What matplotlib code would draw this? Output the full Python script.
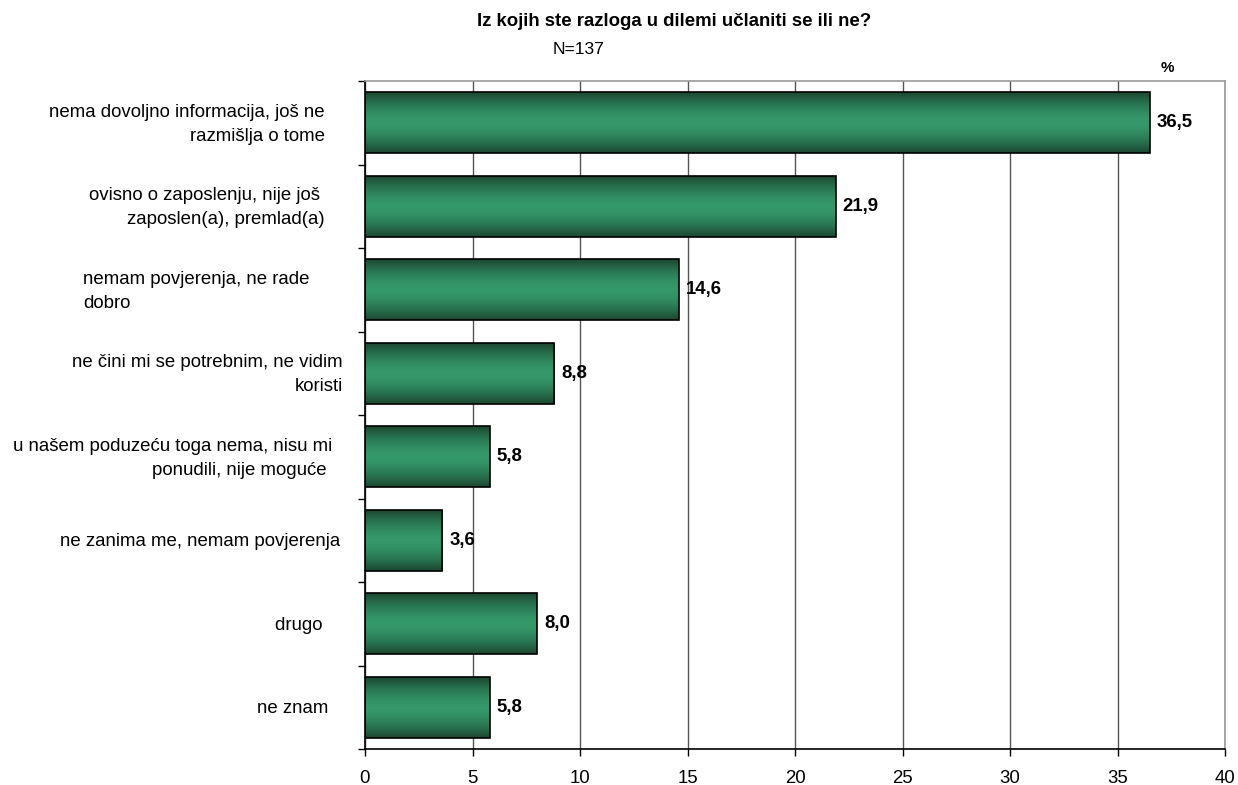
import numpy as np
import matplotlib
matplotlib.use("Agg")
import matplotlib.pyplot as plt
import matplotlib.transforms as mtransforms
from matplotlib.colors import to_rgb

plt.rcParams['font.family'] = ['Liberation Sans', 'DejaVu Sans']

# data
categories = [
    "nema dovoljno informacija, još ne\nrazmišlja o tome",
    "ovisno o zaposlenju, nije još \nzaposlen(a), premlad(a)",
    "nemam povjerenja, ne rade\ndobro",
    "ne čini mi se potrebnim, ne vidim\nkoristi",
    "u našem poduzeću toga nema, nisu mi\nponudili, nije moguće ",
    "ne zanima me, nemam povjerenja",
    "drugo ",
    "ne znam",
]
values = [36.5, 21.9, 14.6, 8.8, 5.8, 3.6, 8.0, 5.8]
xticks = [0, 5, 10, 15, 20, 25, 30, 35, 40]

# label anchors (pixels from left) and alignment, as in the original
label_x = [325, 325, 83, 343, 332, 340, 328, 328]
label_ha = ['right', 'right', 'left', 'right', 'right', 'right', 'right', 'right']

W, H = 1238, 785
fig = plt.figure(figsize=(W / 100, H / 100), dpi=100)
ax = fig.add_axes([365 / W, 1 - 749 / H, (1225 - 365) / W, (749 - 81) / H])

n = len(values)
ypos = np.arange(n)
bar_h = 0.73

ax.set_xlim(0, 40)
ax.set_ylim(n - 0.5, -0.5)

# gradient image for bars
edge_c = np.array(to_rgb("#1c4832"))
mid_c = np.array(to_rgb("#35996b"))
t = np.linspace(-1, 1, 64)
w = np.abs(t) ** 1.6
grad = mid_c[None, :] * (1 - w[:, None]) + edge_c[None, :] * w[:, None]
grad = grad[:, None, :]

bars = ax.barh(ypos, values, height=bar_h, color="none", edgecolor="black",
               linewidth=1.2, zorder=3)
for b, v in zip(bars, values):
    y0 = b.get_y()
    im = ax.imshow(grad, extent=[0, v, y0 + bar_h, y0], aspect='auto',
                   interpolation='bilinear', zorder=2)
    im.set_clip_path(b)
    ax.annotate(f"{v:.1f}".replace('.', ','), (v, b.get_y() + bar_h / 2),
                xytext=(5, 0), textcoords='offset points', va='center',
                ha='left', fontsize=13.4, fontweight='bold', zorder=4)
ax.set_xlim(0, 40)
ax.set_ylim(n - 0.5, -0.5)

# category labels
trans = mtransforms.blended_transform_factory(fig.transFigure, ax.transData)
for i, lab in enumerate(categories):
    ax.text(label_x[i] / W, i + 0.02, lab, transform=trans, ha=label_ha[i],
            multialignment=label_ha[i], va='center', fontsize=13.4,
            linespacing=1.55)

ax.set_xticks(xticks)
ax.set_xticklabels([str(x) for x in xticks], fontsize=13.4)
ax.set_yticks(np.arange(n + 1) - 0.5)
ax.set_yticklabels([])
ax.tick_params(axis='y', direction='out', length=5, width=1, color='black')
ax.tick_params(axis='x', direction='out', length=5, width=1, color='black', pad=10)

ax.grid(axis='x', color='#555555', linewidth=1, zorder=0)
ax.set_axisbelow(True)
for s in ['top', 'right']:
    ax.spines[s].set_color('#9a9a9a')
    ax.spines[s].set_linewidth(1.2)
for s in ['left', 'bottom']:
    ax.spines[s].set_color('black')
    ax.spines[s].set_linewidth(1.2)

fig.text(674 / W, 1 - 21 / H, "Iz kojih ste razloga u dilemi učlaniti se ili ne?",
         ha='center', va='center', fontsize=13.4, fontweight='bold')
fig.text(579 / W, 1 - 49 / H, "N=137", ha='center', va='center', fontsize=12.6)
fig.text(1167 / W, 1 - 68 / H, "%", ha='center', va='center', fontsize=11,
         fontweight='bold')

fig.savefig("out.png", dpi=100)
